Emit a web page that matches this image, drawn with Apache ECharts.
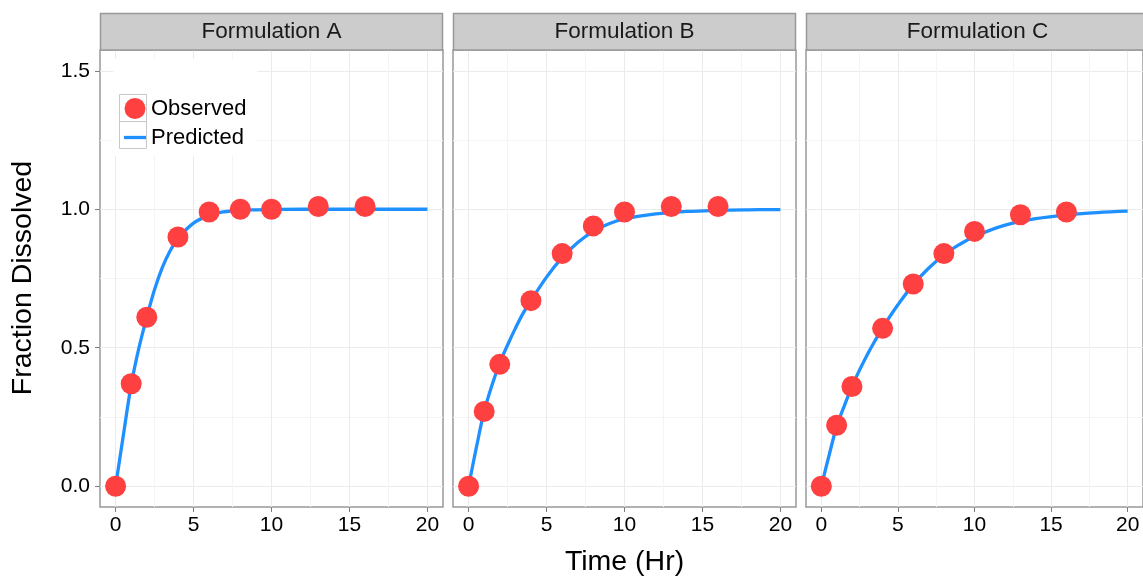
<!DOCTYPE html>
<html><head><meta charset="utf-8">
<script src="https://cdn.jsdelivr.net/npm/echarts@6/dist/echarts.min.js"></script>
<style>html,body{margin:0;padding:0;background:#fff}#c{width:1143px;height:577px}</style>
</head><body><div id="c"></div>
<script>
// ---- data ----
const panels = ['Formulation A', 'Formulation B', 'Formulation C'];
const obsTime = [0, 1, 2, 4, 6, 8, 10, 13, 16];
const obsA = [0, 0.37, 0.61, 0.90, 0.99, 1.00, 1.00, 1.01, 1.01];
const obsB = [0, 0.27, 0.44, 0.67, 0.84, 0.94, 0.99, 1.01, 1.01];
const obsC = [0, 0.22, 0.36, 0.57, 0.73, 0.84, 0.92, 0.98, 0.99];
const predTime = [0, 0.5, 1, 1.5, 2, 2.5, 3, 3.5, 4, 5, 6, 7, 8, 9, 10, 12, 14, 16, 18, 20];
const predA = [0, 0.185, 0.365, 0.50, 0.61, 0.71, 0.79, 0.85, 0.895, 0.95, 0.978, 0.991, 0.996, 0.998, 0.999, 1.0, 1.0, 1.0, 1.0, 1.0];
const predB = [0, 0.14, 0.27, 0.365, 0.445, 0.51, 0.57, 0.625, 0.67, 0.755, 0.825, 0.88, 0.92, 0.948, 0.965, 0.983, 0.992, 0.996, 0.998, 0.999];
const predC = [0, 0.11, 0.215, 0.29, 0.36, 0.42, 0.475, 0.525, 0.572, 0.655, 0.728, 0.787, 0.835, 0.872, 0.902, 0.943, 0.966, 0.98, 0.988, 0.993];
const xTicks = [0, 5, 10, 15, 20];
const xMinor = [2.5, 7.5, 12.5, 17.5];
const yTicks = [0, 0.5, 1.0, 1.5];
const yMinor = [0.25, 0.75, 1.25];
const xTitle = 'Time (Hr)';
const yTitle = 'Fraction Dissolved';

// ---- chart ----
const FONT = '"Liberation Sans", Arial, Helvetica, sans-serif';
const obsAll = [obsA, obsB, obsC];
const predAll = [predA, predB, predC];
const lefts = [100, 453, 806];
const PW = 343, PT = 50, PH = 457;
const BORDER = '#999999';

const grid = lefts.map(l => ({left: l, top: PT, width: PW, height: PH, show: true,
  borderColor: BORDER, borderWidth: 1.5, backgroundColor: '#fff'}));

const xAxis = [], yAxis = [], series = [];
panels.forEach((p, i) => {
  xAxis.push({gridIndex: i, type: 'value', min: -1, max: 21, position: 'bottom',
    axisLine: {show: false, onZero: false},
    axisTick: {show: true, length: 5, lineStyle: {color: '#7f7f7f'}, customValues: xTicks},
    axisLabel: {show: true, customValues: xTicks, margin: 8, fontSize: 21, color: '#000', fontFamily: FONT},
    splitLine: {show: true, lineStyle: {color: '#ebebeb', width: 1}}});
  yAxis.push({gridIndex: i, type: 'value', min: -0.075, max: 1.575, position: 'left',
    axisLine: {show: false, onZero: false},
    axisTick: {show: i === 0, length: 5, lineStyle: {color: '#7f7f7f'}, customValues: yTicks},
    axisLabel: {show: i === 0, customValues: yTicks, margin: 10, fontSize: 21, color: '#000', fontFamily: FONT,
      formatter: v => Number(v).toFixed(1)},
    splitLine: {show: true, lineStyle: {color: '#ebebeb', width: 1}}});
});
panels.forEach((p, i) => {
  xAxis.push({gridIndex: i, type: 'value', min: -1, max: 21, position: 'top',
    axisLine: {show: false, onZero: false}, axisTick: {show: false, customValues: xMinor},
    axisLabel: {show: false, customValues: xMinor},
    splitLine: {show: true, lineStyle: {color: '#f4f4f4', width: 1}}});
  yAxis.push({gridIndex: i, type: 'value', min: -0.075, max: 1.575, position: 'right',
    axisLine: {show: false, onZero: false}, axisTick: {show: false, customValues: yMinor},
    axisLabel: {show: false, customValues: yMinor},
    splitLine: {show: true, lineStyle: {color: '#f4f4f4', width: 1}}});
});
panels.forEach((p, i) => {
  series.push({type: 'line', name: 'Predicted', xAxisIndex: i, yAxisIndex: i,
    data: predTime.map((t, k) => [t, predAll[i][k]]),
    showSymbol: false, symbol: 'none', smooth: 0.4,
    lineStyle: {color: '#1E90FF', width: 3.3}, itemStyle: {color: '#1E90FF'}, z: 2, silent: true});
  series.push({type: 'scatter', name: 'Observed', xAxisIndex: i, yAxisIndex: i,
    data: obsTime.map((t, k) => [t, obsAll[i][k]]),
    symbol: 'circle', symbolSize: 21, itemStyle: {color: '#FF4040', opacity: 1}, z: 3, silent: true});
});

const graphic = [];
lefts.forEach((l, i) => {
  graphic.push({type: 'rect', z: 5, shape: {x: l + 0.5, y: 13.5, width: PW - 1, height: 36.5},
    style: {fill: '#cccccc', stroke: BORDER, lineWidth: 1.5}});
  graphic.push({type: 'text', z: 6, x: l + PW / 2, y: 32,
    style: {text: panels[i], fill: '#1a1a1a', font: '22.5px ' + FONT, textAlign: 'center', textVerticalAlign: 'middle'}});
});
graphic.push({type: 'rect', z: 3, shape: {x: 113, y: 59, width: 144, height: 97}, style: {fill: '#fff'}});
graphic.push({type: 'rect', z: 3, shape: {x: 119.5, y: 94.5, width: 27, height: 27}, style: {fill: '#fff', stroke: '#c8c8c8', lineWidth: 1}});
graphic.push({type: 'rect', z: 3, shape: {x: 119.5, y: 121.5, width: 27, height: 27}, style: {fill: '#fff', stroke: '#c8c8c8', lineWidth: 1}});
graphic.push({type: 'text', z: 6, x: 624.5, y: 562,
  style: {text: xTitle, fill: '#000', font: '28.5px ' + FONT, textAlign: 'center', textVerticalAlign: 'middle'}});
graphic.push({type: 'text', z: 6, x: 23, y: 278, rotation: Math.PI / 2,
  style: {text: yTitle, fill: '#000', font: '28.5px ' + FONT, textAlign: 'center', textVerticalAlign: 'middle'}});

const chart = echarts.init(document.getElementById('c'), null, {renderer: 'canvas'});
chart.setOption({
  animation: false,
  backgroundColor: '#fff',
  grid, xAxis, yAxis, series, graphic,
  legend: {
    data: [
      {name: 'Observed', icon: 'circle'},
      {name: 'Predicted', icon: 'path://M0,0 L22,0 L22,3.3 L0,3.3 Z'}
    ],
    orient: 'vertical', left: 124, top: 97.5,
    itemWidth: 22, itemHeight: 21, itemGap: 7, padding: 0, selectedMode: false, z: 10,
    textStyle: {fontSize: 22, fontFamily: FONT, color: '#000'}}
});
</script></body></html>
